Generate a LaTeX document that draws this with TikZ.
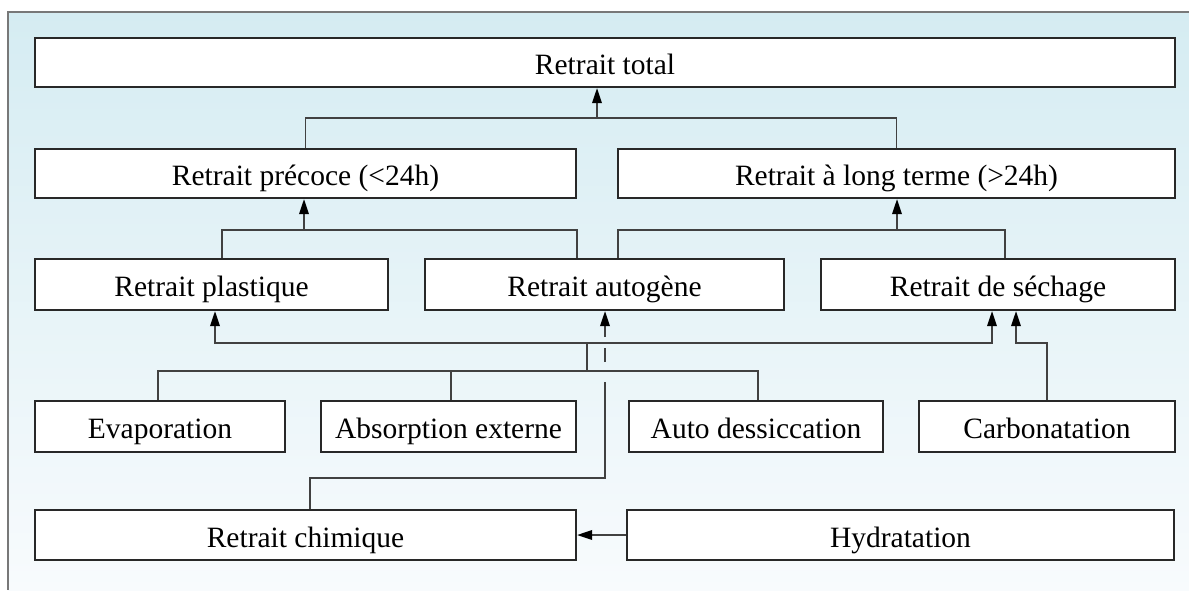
\documentclass[tikz,border=0pt]{standalone}
\usepackage{fontspec}
\setmainfont{Liberation Serif}
\usetikzlibrary{arrows.meta}
\definecolor{bgtop}{RGB}{213,236,242}
\definecolor{bgbot}{RGB}{248,251,253}
\definecolor{frameline}{RGB}{120,120,120}
\definecolor{boxline}{RGB}{40,40,40}
\definecolor{busline}{RGB}{65,65,65}
\tikzset{
  box/.style={draw=boxline, line width=2.2pt, fill=white, inner sep=0pt,
    font=\fontsize{29.5}{33}\selectfont, text height=24pt, text depth=0pt},
  bus/.style={draw=busline, line width=1.8pt},
  arr/.style={bus, -{Triangle[length=15pt,width=9.5pt,color=black]}},
}
\begin{document}
\begin{tikzpicture}[x=1pt,y=-1pt]
\useasboundingbox (0,0) rectangle (1189,590);
% backdrop and frame
\shade[top color=bgtop, bottom color=bgbot] (8,12) rectangle (1189,590);
\draw[frameline, line width=1.5pt] (8,590) -- (8,12) -- (1189,12);

% boxes
\node[box, minimum width=1140pt, minimum height=49pt] (total) at (605,62.5) {Retrait total};
\node[box, minimum width=541pt, minimum height=49pt] (precoce) at (305.5,173.5) {Retrait précoce (<24h)};
\node[box, minimum width=557pt, minimum height=49pt] (long) at (896.5,173.5) {Retrait à long terme (>24h)};
\node[box, minimum width=353pt, minimum height=51pt] (plastique) at (211.5,284.5) {Retrait plastique};
\node[box, minimum width=359pt, minimum height=51pt] (autogene) at (604.5,284.5) {Retrait autogène};
\node[box, minimum width=354pt, minimum height=51pt] (sechage) at (998,284.5) {Retrait de séchage};
\node[box, minimum width=250pt, minimum height=51pt] (evap) at (160,426.5) {Evaporation};
\node[box, minimum width=255pt, minimum height=51pt] (absorp) at (448.5,426.5) {Absorption externe};
\node[box, minimum width=254pt, minimum height=51pt] (autodes) at (756,426.5) {Auto dessiccation};
\node[box, minimum width=256pt, minimum height=51pt] (carbo) at (1047,426.5) {Carbonatation};
\node[box, minimum width=541pt, minimum height=50pt] (chimique) at (305.5,535) {Retrait chimique};
\node[box, minimum width=547pt, minimum height=50pt] (hydra) at (900.5,535) {Hydratation};

% junction points
\coordinate (t1) at (597,118);
\coordinate (p1) at (222,230);
\coordinate (p2) at (577,230);
\coordinate (p3) at (304,230);
\coordinate (l1) at (618,230);
\coordinate (l2) at (1005,230);
\coordinate (l3) at (897,230);
\coordinate (m1) at (215,343);
\coordinate (m2) at (992,343);
\coordinate (m3) at (587,343);
\coordinate (m4) at (587,371);
\coordinate (e1) at (158,371);
\coordinate (e2) at (451,371);
\coordinate (e3) at (758,371);
\coordinate (c1) at (1047,343);
\coordinate (c2) at (1016,343);
\coordinate (k1) at (310,478);
\coordinate (k2) at (605,478);
\coordinate (k3) at (605,382);
\coordinate (k4) at (605,362);
\coordinate (k5) at (605,348);
\coordinate (k6) at (605,337);

% precoce + long terme -> total
\draw[bus] (precoce.north) |- (t1) -| (long.north);
\draw[arr] (t1) -- (t1 |- total.south);

% plastique + autogene -> precoce
\draw[bus] (p1 |- plastique.north) -- (p1) -- (p2) -- (p2 |- autogene.north);
\draw[arr] (p3) -- (p3 |- precoce.south);

% autogene + sechage -> long terme
\draw[bus] (l1 |- autogene.north) -- (l1) -- (l2) -- (l2 |- sechage.north);
\draw[arr] (l3) -- (l3 |- long.south);

% mechanisms -> plastique / sechage
\draw[arr] (m2) -- (m1) -- (m1 |- plastique.south);
\draw[arr] (m1) -- (m2) -- (m2 |- sechage.south);
\draw[bus] (m3) -- (m4);
\draw[bus] (e1 |- evap.north) -- (e1) -- (e3) -- (e3 |- autodes.north);
\draw[bus] (e2) -- (e2 |- absorp.north);

% carbonatation -> sechage
\draw[arr] (carbo.north) -- (c1) -- (c2) -- (c2 |- sechage.south);

% chimique -> autogene, bridging the two buses
\draw[bus] (k1 |- chimique.north) -- (k1) -- (k2) -- (k3);
\draw[bus] (k4) -- (k5);
\draw[arr] (k6) -- (k6 |- autogene.south);

% hydratation -> chimique
\draw[arr] (hydra.west) -- (chimique.east);
\end{tikzpicture}
\end{document}
